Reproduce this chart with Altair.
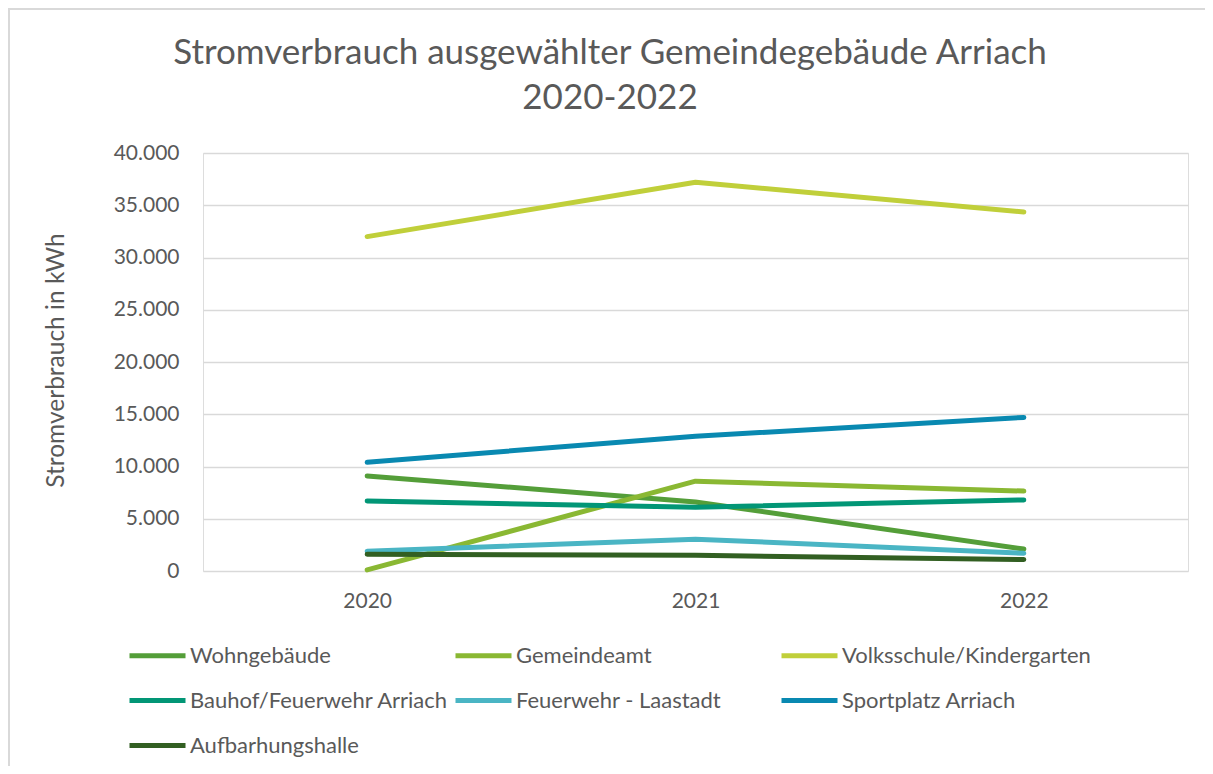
import altair as alt
import pandas as pd

years = ["2020", "2021", "2022"]
series = [
    "Wohngebäude",
    "Gemeindeamt",
    "Volksschule/Kindergarten",
    "Bauhof/Feuerwehr Arriach",
    "Feuerwehr - Laastadt",
    "Sportplatz Arriach",
    "Aufbarhungshalle",
]
wohngebaeude = [9100, 6600, 2100]
gemeindeamt = [100, 8600, 7650]
volksschule = [32000, 37200, 34350]
bauhof = [6700, 6100, 6800]
feuerwehr_laastadt = [1900, 3050, 1700]
sportplatz = [10400, 12900, 14700]
aufbarhungshalle = [1600, 1500, 1100]
colors = ["#549E39", "#8AB833", "#C0CF3A", "#029676", "#4AB5C4", "#0989B1", "#325F22"]
title_lines = ["Stromverbrauch ausgewählter Gemeindegebäude Arriach", "2020-2022"]

values = [wohngebaeude, gemeindeamt, volksschule, bauhof, feuerwehr_laastadt, sportplatz, aufbarhungshalle]
rows = []
for i, (name, vals) in enumerate(zip(series, values)):
    for y, v in zip(years, vals):
        rows.append({"Gebäude": name, "Jahr": y, "kWh": v, "order": i})
df = pd.DataFrame(rows)

FONT = "Lato"
GREY = "#595959"
W, H = 985, 418

lines = alt.Chart(df).mark_line(strokeWidth=5, strokeCap="round", strokeJoin="round").encode(
    x=alt.X("Jahr:N", scale=alt.Scale(type="point", padding=0.5), sort=years,
            axis=alt.Axis(title=None, labelAngle=0, ticks=False, tickSize=0, domain=False,
                          labelPadding=19, labelFontSize=21, labelColor=GREY, labelFont=FONT)),
    y=alt.Y("kWh:Q", scale=alt.Scale(domain=[0, 40000]),
            axis=alt.Axis(title="Stromverbrauch in kWh", values=list(range(0, 40001, 5000)),
                          labelExpr="replace(format(datum.value, ',.0f'), ',', '.')",
                          ticks=False, tickSize=0, domain=False, labelPadding=24,
                          labelFontSize=21, labelColor=GREY, labelFont=FONT,
                          gridColor="#D9D9D9", gridWidth=1.5,
                          titleFontSize=24.5, titleColor=GREY, titleFont=FONT, titleFontWeight="normal",
                          titleX=-147, titleY=H / 2 - 2, titleAngle=-90, titleBaseline="middle",
                          titleAlign="center")),
    color=alt.Color("Gebäude:N", scale=alt.Scale(domain=series, range=colors), sort=series,
                    legend=alt.Legend(title=None, orient="none", legendX=-76, legendY=472,
                                      direction="horizontal",
                                      columns=3, gridAlign="all", columnPadding=-4, rowPadding=3,
                                      symbolType="stroke", symbolSize=3136, symbolStrokeWidth=5,
                                      labelFontSize=22, labelColor=GREY, labelFont=FONT,
                                      labelOffset=2, labelLimit=400)),
    order=alt.Order("order:Q"),
    detail="Gebäude:N",
)

border = alt.Chart(pd.DataFrame({"a": [0]})).mark_rect(fill=None, stroke="#D9D9D9", strokeWidth=2).encode(
    x=alt.value(-194), y=alt.value(-144), x2=alt.value(W + 60), y2=alt.value(H + 240)
)

title1 = alt.Chart(pd.DataFrame({"line": title_lines[:1]})).mark_text(
    font=FONT, fontSize=35, color=GREY, align="center", baseline="alphabetic"
).encode(text="line:N", x=alt.value(407), y=alt.value(64 - 153))
title2 = alt.Chart(pd.DataFrame({"line": title_lines[1:]})).mark_text(
    font=FONT, fontSize=35, color=GREY, align="center", baseline="alphabetic"
).encode(text="line:N", x=alt.value(407), y=alt.value(109 - 153))

chart = alt.layer(border, title1, title2, lines).properties(
    width=W, height=H,
    autosize=alt.AutoSizeParams(type="none"),
    padding={"left": 195, "top": 145, "right": 17, "bottom": 195},
).configure_view(stroke=None).configure(background="white")

chart.save("out.html", embed_options={"renderer": "svg", "actions": False})
